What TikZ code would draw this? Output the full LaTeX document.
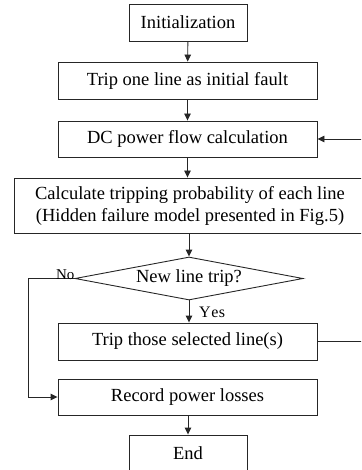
\documentclass[tikz,border=0pt]{standalone}
\usepackage{fontspec}
\setmainfont{Liberation Serif}
\usetikzlibrary{shapes.geometric,arrows.meta}
\begin{document}
\begin{tikzpicture}[x=1pt,y=-1pt,
  every node/.style={font=\fontsize{18.5}{22}\selectfont},
  stepbox/.style={draw=black!85, line width=0.9pt, rectangle, inner sep=0pt, align=center},
  decbox/.style={draw=black!85, line width=0.9pt, diamond, aspect=5.3, inner sep=0pt,
    minimum width=228pt, minimum height=43pt},
  link/.style={draw=black!85, line width=0.9pt, -{Triangle[length=7pt,width=6.5pt]}},
  plain/.style={draw=black!85, line width=0.9pt},
  tag/.style={font=\fontsize{15}{18}\selectfont, inner sep=1pt}]
\useasboundingbox (0,0) rectangle (361,470);
\clip (0,0) rectangle (361,470);

% process steps
\node[stepbox, minimum width=118pt, minimum height=37pt] (init) at (188,22.5) {Initialization};
\node[stepbox, minimum width=259pt, minimum height=37pt] (trip1) at (187.5,80.5) {Trip one line as initial fault};
\node[stepbox, minimum width=259pt, minimum height=36pt] (dc) at (187.5,139) {DC power flow calculation};
\node[stepbox, minimum width=352pt, minimum height=55pt] (calc) at (190,205.5)
  {Calculate tripping probability of each line\\(Hidden failure model presented in Fig.5)};
\node[decbox] (dec) at (189,278.5) {New line trip?};
\node[stepbox, minimum width=259pt, minimum height=37pt] (trip2) at (187.5,341.5) {Trip those selected line(s)};
\node[stepbox, minimum width=259pt, minimum height=36pt] (rec) at (187.5,397) {Record power losses};
\node[stepbox, minimum width=118pt, minimum height=37pt] (fin) at (188,453.5) {End};

% main flow
\draw[link] (init) -- (trip1);
\draw[link] (trip1) -- (dc);
\draw[link] (dc) -- (calc.north -| dc.south);
\draw[link] (calc.south -| dec.north) -- (dec);
\draw[link] (dec.south) -- (dec.south |- trip2.north);
\node[tag, font=\fontsize{16}{18}\selectfont, anchor=west] (yeslbl) at (198,312) {Y\kern0.5pt e\kern0.5pt s};
\draw[link] (rec.south -| fin.north) -- (fin);

% "No" branch
\coordinate (nocorner) at (28,0);
\draw[link] (dec.west) -| (nocorner |- rec.west) -- (rec.west);
\node[tag, anchor=south east] (nolbl) at ([xshift=1pt,yshift=-2pt]dec.west) {No};

% loop back to power flow
\coordinate (back) at (368,0);
\draw[plain] (trip2.east) -- (trip2.east -| back) -- (dc.east -| back);
\draw[link] (dc.east -| back) -- (dc.east);
\end{tikzpicture}
\end{document}
